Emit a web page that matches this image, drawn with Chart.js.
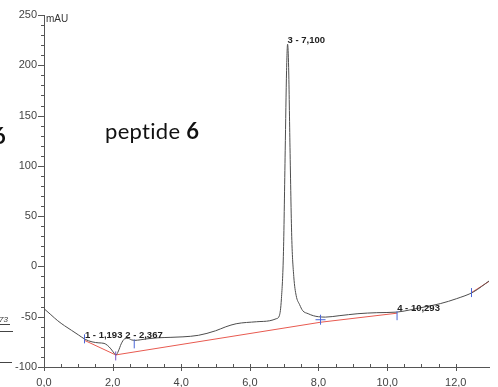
<!DOCTYPE html>
<html>
<head>
<meta charset="utf-8">
<script src="https://cdn.jsdelivr.net/npm/chart.js@4"></script>
<style>
  html, body { margin: 0; padding: 0; background: #fff; }
  canvas { display: block; }
</style>
</head>
<body>
<canvas id="chrom" width="498" height="387"></canvas>
<script>
// retention time (min) and absorbance (mAU) of the trace
const timeMin = [0, 0.2, 0.4, 0.6, 0.8, 1.0, 1.2, 1.4, 1.6, 1.75, 1.85, 1.95, 2.05, 2.1, 2.17, 2.25, 2.35, 2.45, 2.55, 2.65, 2.8, 3.0, 3.3, 3.7, 4.05, 4.5, 5.0, 5.3, 5.6, 6.2, 6.58, 6.77, 6.86, 6.92, 6.98, 7.03, 7.07, 7.1, 7.13, 7.17, 7.22, 7.28, 7.35, 7.45, 7.54, 7.7, 7.85, 8.0, 8.2, 8.6, 9.15, 9.7, 10.29, 10.7, 11.08, 11.55, 12.03, 12.51, 12.99];
const signal  = [-42, -48, -54, -59, -63.5, -68, -72.5, -75, -76, -76.5, -78.5, -82, -86.5, -88, -84, -77, -72, -71.5, -73, -73.5, -73, -72, -71, -70.5, -70, -68.5, -64, -60, -57, -55, -54, -52, -49, -32, 15, 115, 195, 221, 198, 118, 30, -10, -29, -38, -44, -47, -49, -50, -50.4, -49, -47, -46, -45.4, -43, -40.4, -37, -32, -25.5, -14];

// integration baseline (gap where it runs under the trace)
const baseT = [1.18, 2.09, 8.06, 10.29, 10.3, 12.46, 12.99];
const baseV = [-73.5, -88, -55.5, -46.5, null, -26, -14.5];

// integration start/end marks
const markT = [1.18, 2.09, 2.63, 8.06, 10.29, 12.46];
const markV = [-72, -89, -77, -53, -49, -26];
const markColors = ['#4a66d8', '#7a55c8', '#4a66d8', '#4a66d8', '#4a66d8', '#4a66d8'];

// peaks
const peakNames = ['1', '2', '3', '4'];
const peakTimes = [1.193, 2.367, 7.1, 10.293];

const xMajor = 2, yMajor = 50;

function traceAt(t) {
  for (let i = 1; i < timeMin.length; i++) {
    if (t <= timeMin[i]) {
      const f = (t - timeMin[i - 1]) / (timeMin[i] - timeMin[i - 1]);
      return signal[i - 1] + f * (signal[i] - signal[i - 1]);
    }
  }
  return signal[signal.length - 1];
}

const extras = {
  id: 'extras',
  afterDraw(chart) {
    const ctx = chart.ctx, xs = chart.scales.x, ys = chart.scales.y;
    const a = chart.chartArea;
    ctx.save();
    // ticks
    ctx.strokeStyle = '#555';
    ctx.lineWidth = 1;
    ctx.beginPath();
    xs.ticks.forEach(t => {
      if (t.value > xs.max - 0.01) return;
      const px = Math.round(xs.getPixelForValue(t.value)) + 0.5;
      const major = Math.abs(t.value % xMajor) < 1e-6;
      ctx.moveTo(px, a.bottom - 3);
      ctx.lineTo(px, a.bottom + (major ? 4 : 0));
    });
    ys.ticks.forEach(t => {
      const py = Math.round(ys.getPixelForValue(t.value)) + 0.5;
      const major = Math.abs(t.value % yMajor) < 1e-6;
      ctx.moveTo(a.left - (major ? 6 : 3), py);
      ctx.lineTo(a.left, py);
    });
    ctx.stroke();

    // unit
    ctx.fillStyle = '#333';
    ctx.font = '10px "Liberation Sans", Arial, sans-serif';
    ctx.textBaseline = 'middle';
    ctx.textAlign = 'left';
    ctx.fillText('mAU', a.left + 2, 19);

    // peak labels
    ctx.font = 'bold 9.5px "Liberation Sans", Arial, sans-serif';
    ctx.fillStyle = '#222';
    ctx.textBaseline = 'alphabetic';
    peakNames.forEach((n, i) => {
      const px = xs.getPixelForValue(peakTimes[i]);
      const py = ys.getPixelForValue(traceAt(peakTimes[i]));
      ctx.fillText(n + ' - ' + peakTimes[i].toFixed(3).replace('.', ','), px, py - 1);
    });

    // title (letter spacing keeps the "ti" ligature away)
    ctx.fillStyle = '#111';
    ctx.letterSpacing = '0.3px';
    ctx.font = '22px Lato, "Open Sans", sans-serif';
    ctx.fillText('peptide ', 105, 139);
    const w = ctx.measureText('peptide ').width;
    ctx.font = 'bold 22px Lato, "Open Sans", sans-serif';
    ctx.fillText('6', 105 + w, 139);
    ctx.letterSpacing = '0px';

    // cropped fragments at the left edge
    ctx.fillText('6', -7, 144);
    ctx.font = 'italic 8px "Liberation Sans", Arial, sans-serif';
    ctx.fillStyle = '#333';
    ctx.fillText('73', -1, 322);
    ctx.strokeStyle = '#444';
    ctx.beginPath();
    ctx.moveTo(0, 324.5); ctx.lineTo(10, 324.5);
    ctx.moveTo(0, 331.5); ctx.lineTo(13, 331.5);
    ctx.moveTo(0, 362.5); ctx.lineTo(12, 362.5);
    ctx.stroke();
    ctx.restore();
  }
};

new Chart(document.getElementById('chrom'), {
  type: 'line',
  data: {
    datasets: [
      {
        data: markT.map((t, i) => ({ x: t, y: markV[i] })),
        showLine: false,
        pointStyle: markT.map((t, i) => i === 3 ? 'cross' : 'line'),
        pointRotation: markT.map((t, i) => i === 3 ? 0 : 90),
        pointRadius: markT.map((t, i) => i === 3 ? 5 : 4.5),
        pointBorderColor: markColors,
        pointBorderWidth: 1,
        order: 0
      },
      {
        data: timeMin.map((t, i) => ({ x: t, y: signal[i] })),
        borderColor: '#4d4d4d',
        borderWidth: 1,
        pointRadius: 0,
        cubicInterpolationMode: 'monotone',
        order: 1
      },
      {
        data: baseT.map((t, i) => ({ x: t, y: baseV[i] })),
        borderColor: '#e85a50',
        borderWidth: 1,
        pointRadius: 0,
        spanGaps: false,
        order: 2
      }
    ]
  },
  options: {
    responsive: false,
    animation: false,
    layout: { padding: { top: 15, right: 0, left: 0, bottom: 0 } },
    plugins: { legend: { display: false }, tooltip: { enabled: false } },
    scales: {
      x: {
        type: 'linear',
        min: 0,
        max: 12.97,
        afterFit: s => { s.height = 20; },
        grid: { display: false, drawTicks: false },
        border: { display: true, color: '#555', width: 1 },
        ticks: {
          stepSize: 0.5,
          autoSkip: false,
          maxRotation: 0,
          padding: 9,
          color: '#444',
          font: { family: '"Liberation Sans", Arial, sans-serif', size: 11 },
          callback: v => Math.abs(v % xMajor) < 1e-6 ? v.toFixed(1).replace('.', ',') : ''
        }
      },
      y: {
        min: -100,
        max: 250,
        afterFit: s => { s.width = 44; },
        grid: { display: false, drawTicks: false },
        border: { display: true, color: '#555', width: 1 },
        ticks: {
          stepSize: 10,
          autoSkip: false,
          padding: 7,
          color: '#444',
          font: { family: '"Liberation Sans", Arial, sans-serif', size: 11 },
          callback: v => Math.abs(v % yMajor) < 1e-6 ? String(v) : ''
        }
      }
    }
  },
  plugins: [extras]
});
</script>
</body>
</html>
